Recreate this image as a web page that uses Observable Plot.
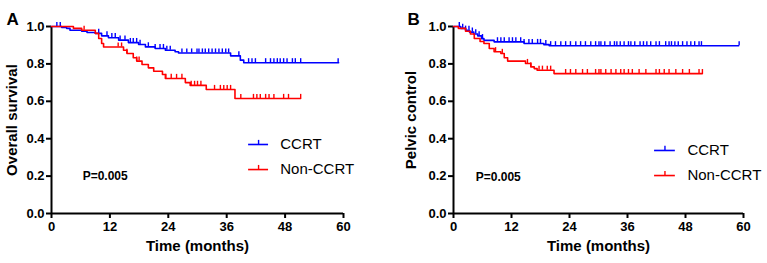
<!DOCTYPE html>
<html>
<head>
<meta charset="utf-8">
<script src="https://cdn.jsdelivr.net/npm/d3@7"></script>
<script src="https://cdn.jsdelivr.net/npm/@observablehq/plot@0.6"></script>
<style>
  html, body { margin: 0; padding: 0; background: #fff; }
  #wrap { display: flex; flex-direction: row; width: 767px; height: 263px; }
</style>
</head>
<body>
<div id="wrap"></div>
<script>
// ---- Data ----
const xTicks = [0, 12, 24, 36, 48, 60];
const yTicks = [0, 0.2, 0.4, 0.6, 0.8, 1.0];
const groups = ["CCRT", "Non-CCRT"];
const groupColors = ["#0000ff", "#ff0000"];

// Panel A: Overall survival
const aCcrtTime = [0, 2.1, 3.1, 3.8, 6.2, 7.3, 9.0, 10.3, 11.7, 13.8, 15.8, 17.9, 19.3, 21.3, 23.4, 25.4, 26.1, 36.8, 38.8, 39.5, 59.0];
const aCcrtSurv = [1.0, 0.995, 0.99, 0.98, 0.975, 0.968, 0.963, 0.95, 0.94, 0.927, 0.914, 0.904, 0.891, 0.882, 0.873, 0.865, 0.858, 0.843, 0.82, 0.806, 0.806];
const aCcrtCensor = [1.1, 1.8, 9.7, 11.4, 12.4, 13.1, 14.1, 15.1, 16.2, 16.8, 17.5, 18.2, 19.9, 21.3, 22.3, 23.0, 23.7, 24.4, 26.8, 27.8, 28.8, 29.9, 30.3, 31.0, 31.6, 32.3, 33.0, 33.7, 34.4, 35.1, 35.8, 36.4, 38.5, 40.5, 41.2, 41.9, 44.0, 45.0, 45.7, 46.4, 47.0, 47.7, 48.4, 49.5, 50.1, 51.2, 58.9];

const aNonTime = [0, 4.5, 6.2, 9.0, 9.7, 10.3, 10.7, 14.8, 15.5, 16.8, 17.5, 18.6, 19.9, 21.0, 22.8, 23.4, 27.5, 28.5, 31.8, 37.7, 51.2];
const aNonSurv = [1.0, 0.99, 0.98, 0.963, 0.936, 0.909, 0.89, 0.873, 0.856, 0.833, 0.815, 0.797, 0.779, 0.761, 0.743, 0.722, 0.70, 0.685, 0.663, 0.615, 0.615];
const aNonCensor = [6.7, 13.7, 14.4, 15.5, 17.5, 18.0, 23.5, 24.6, 25.7, 26.8, 28.7, 29.4, 30.0, 30.7, 33.5, 34.7, 35.4, 36.1, 36.8, 38.9, 41.5, 42.2, 42.9, 44.0, 44.7, 45.7, 47.7, 48.7, 51.2];

// Panel B: Pelvic control
const bCcrtTime = [0, 1.5, 2.5, 3.3, 4.2, 5.0, 5.8, 6.3, 8.4, 14.6, 18.7, 19.8, 59.0];
const bCcrtSurv = [1.0, 0.99, 0.98, 0.97, 0.96, 0.95, 0.935, 0.926, 0.918, 0.909, 0.903, 0.897, 0.897];
const bCcrtCensor = [1.2, 1.9, 2.5, 3.2, 3.9, 4.6, 5.3, 6.0, 9.1, 9.8, 10.5, 11.5, 12.2, 12.9, 13.9, 14.6, 15.6, 16.3, 17.4, 18.0, 19.1, 20.1, 21.1, 22.2, 23.2, 24.2, 25.3, 26.3, 27.3, 28.4, 29.4, 30.1, 30.5, 31.3, 32.4, 33.3, 33.8, 34.5, 35.3, 36.2, 36.7, 37.5, 38.6, 39.3, 40.0, 40.8, 41.9, 42.6, 43.9, 44.6, 45.1, 45.8, 46.5, 47.4, 48.3, 49.1, 49.9, 50.8, 51.3, 59.1];

const bNonTime = [0, 1.0, 2.5, 3.5, 4.3, 5.5, 6.3, 7.4, 8.4, 9.8, 10.5, 11.2, 14.9, 16.0, 16.7, 17.3, 20.8, 51.5];
const bNonSurv = [1.0, 0.99, 0.975, 0.96, 0.936, 0.92, 0.909, 0.882, 0.865, 0.856, 0.833, 0.815, 0.802, 0.784, 0.775, 0.766, 0.748, 0.748];
const bNonCensor = [8.7, 10.1, 15.3, 16.0, 17.7, 18.4, 19.4, 20.1, 23.2, 24.2, 25.3, 26.7, 27.7, 29.4, 30.1, 30.5, 31.5, 32.6, 33.6, 34.6, 35.3, 36.2, 37.0, 38.4, 39.8, 41.9, 42.6, 43.6, 44.6, 46.0, 47.4, 48.8, 50.8, 51.5];

// ---- helpers ----
function stepAt(times, surv, t) {
  let v = surv[0];
  for (let i = 0; i < times.length; i++) if (times[i] <= t) v = surv[i];
  return v;
}
function curve(times, surv) { return times.map((t, i) => ({t, s: surv[i]})); }
function censors(times, surv, cs) { return cs.map(t => ({t, s: stepAt(times, surv, t)})); }

const FONT = "Liberation Sans, Arial, Helvetica, sans-serif";

function panel(opts) {
  const {width, marginLeft, marginRight, letter, letterDx, yLabel, yLabelDx,
         series, legend, pPos} = opts;
  const marks = [];
  // axes
  marks.push(Plot.axisY({ticks: yTicks, tickFormat: d3.format(".1f"), tickSize: 5, tickPadding: 2,
    strokeWidth: 2, fontWeight: "bold", fontSize: 13, label: null}));
  marks.push(Plot.axisX({ticks: xTicks, tickSize: 5, tickPadding: 3,
    strokeWidth: 2, fontWeight: "bold", fontSize: 13, label: null}));
  marks.push(Plot.ruleX([0], {y1: 0, y2: 1, stroke: "#000", strokeWidth: 2}));
  marks.push(Plot.ruleY([0], {x1: 0, x2: 60, stroke: "#000", strokeWidth: 2}));
  // curves
  series.forEach((sr, i) => {
    marks.push(Plot.line(curve(sr.time, sr.surv), {x: "t", y: "s", curve: "step-after",
      stroke: groupColors[i], strokeWidth: 1.6}));
    marks.push(Plot.ruleX(censors(sr.time, sr.surv, sr.censor), {x: "t", y1: "s", y2: d => d.s + 0.022,
      stroke: groupColors[i], strokeWidth: 1.4}));
  });
  // legend
  groups.forEach((g, i) => {
    const y = legend.ys[i];
    marks.push(Plot.ruleY([y], {x1: legend.x1, x2: legend.x2, stroke: groupColors[i], strokeWidth: 1.6}));
    marks.push(Plot.ruleX([(legend.x1 + legend.x2) / 2], {y1: y, y2: y + 0.022, stroke: groupColors[i], strokeWidth: 1.4}));
    marks.push(Plot.text([g], {x: legend.tx, y, text: d => d, textAnchor: "start", fontSize: 15, fill: "#000"}));
  });
  // p-value
  marks.push(Plot.text(["P=0.005"], {x: pPos[0], y: pPos[1], text: d => d, textAnchor: "start",
    fontSize: 12, fontWeight: "bold", fill: "#000"}));
  // axis titles
  marks.push(Plot.text(["Time (months)"], {frameAnchor: "bottom", dy: 37, text: d => d,
    textAnchor: "middle", fontSize: 15, fontWeight: "bold", fill: "#000"}));
  marks.push(Plot.text([yLabel], {frameAnchor: "left", dx: yLabelDx, rotate: -90, text: d => d,
    textAnchor: "middle", fontSize: 15, fontWeight: "bold", fill: "#000"}));
  marks.push(Plot.text([letter], {frameAnchor: "top-left", dx: letterDx, dy: -14, text: d => d,
    textAnchor: "start", fontSize: 17, fontWeight: "bold", fill: "#000"}));

  return Plot.plot({
    width, height: 263, marginLeft, marginRight, marginTop: 26, marginBottom: 50,
    x: {domain: [0, 60]},
    y: {domain: [0, 1]},
    style: {fontFamily: FONT, background: "#fff", color: "#000", overflow: "visible"},
    marks
  });
}

const wrap = document.getElementById("wrap");
wrap.appendChild(panel({
  width: 383, marginLeft: 51, marginRight: 40, letter: "A", letterDx: -45,
  yLabel: "Overall survival", yLabelDx: -39,
  series: [
    {time: aCcrtTime, surv: aCcrtSurv, censor: aCcrtCensor},
    {time: aNonTime, surv: aNonSurv, censor: aNonCensor}
  ],
  legend: {x1: 40.5, x2: 44.6, tx: 47.0, ys: [0.369, 0.235]},
  pPos: [6.4, 0.198]
}));
wrap.appendChild(panel({
  width: 384, marginLeft: 70, marginRight: 24, letter: "B", letterDx: -46,
  yLabel: "Pelvic control", yLabelDx: -42,
  series: [
    {time: bCcrtTime, surv: bCcrtSurv, censor: bCcrtCensor},
    {time: bNonTime, surv: bNonSurv, censor: bNonCensor}
  ],
  legend: {x1: 41.6, x2: 45.9, tx: 48.4, ys: [0.337, 0.203]},
  pPos: [4.6, 0.194]
}));
</script>
</body>
</html>
